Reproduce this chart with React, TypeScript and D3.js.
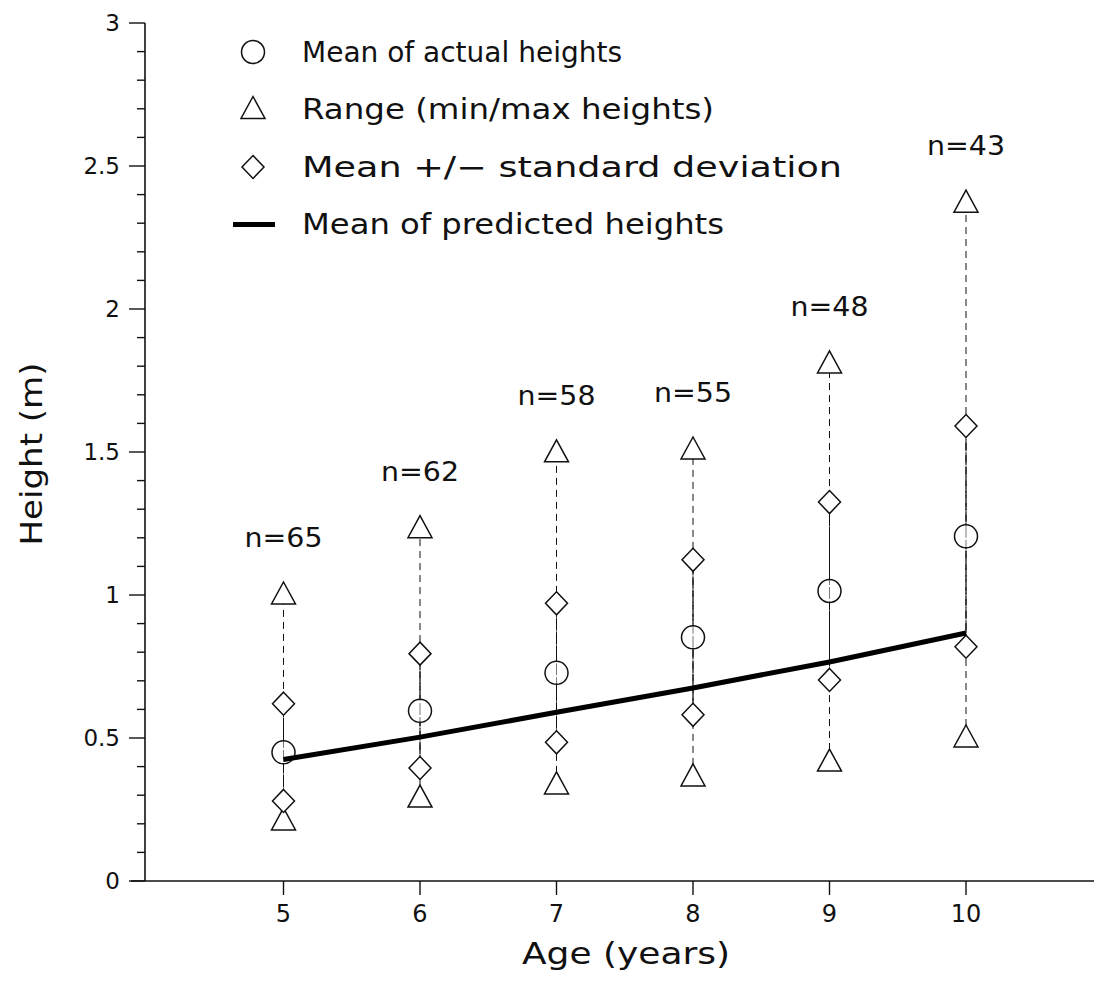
import React from "react";
import * as d3 from "d3";

// Age classes (years) and sample sizes
const ages = [5, 6, 7, 8, 9, 10];
const sampleSizes = [65, 62, 58, 55, 48, 43];
// Mean of measured heights (m)
const meanHeights = [0.45, 0.595, 0.728, 0.852, 1.014, 1.205];
// Standard deviation of measured heights (m)
const sdHeights = [0.17, 0.2, 0.243, 0.271, 0.311, 0.386];
// Minimum and maximum measured heights (m)
const minHeights = [0.21, 0.29, 0.336, 0.364, 0.416, 0.5];
const maxHeights = [1.0, 1.232, 1.497, 1.507, 1.808, 2.37];
// Mean of model-predicted heights (m)
const predictedHeights = [0.425, 0.503, 0.59, 0.675, 0.766, 0.867];

const yMajorTicks = [0, 0.5, 1, 1.5, 2, 2.5, 3];
const xTicks = [5, 6, 7, 8, 9, 10];

const legendItems = [
  { kind: "circle", label: "Mean of actual heights", len: 320 },
  { kind: "triangle", label: "Range (min/max heights)", len: 412 },
  { kind: "diamond", label: "Mean +/\u2212 standard deviation", len: 540 },
  { kind: "line", label: "Mean of predicted heights", len: 422 },
];

const FONT = "'DejaVu Sans', sans-serif";

function Marker({ kind, x, y }: { kind: string; x: number; y: number }) {
  const common = { fill: "white", stroke: "#111", strokeWidth: 1.5 };
  if (kind === "circle") return <circle cx={x} cy={y} r={11.5} {...common} />;
  if (kind === "triangle")
    return (
      <path
        d={`M${x},${y - 13} L${x + 12},${y + 9} L${x - 12},${y + 9} Z`}
        {...common}
      />
    );
  if (kind === "diamond")
    return (
      <path
        d={`M${x},${y - 11.5} L${x + 11},${y} L${x},${y + 11.5} L${x - 11},${y} Z`}
        {...common}
      />
    );
  return null;
}

export default function App() {
  const width = 1094;
  const height = 981;
  const x = d3.scaleLinear().domain([4, 11]).range([147, 1102.5]);
  const y = d3.scaleLinear().domain([0, 3]).range([881, 23]);

  const minorTicks = d3.range(0, 3.0001, 0.1).map((v) => Math.round(v * 10) / 10);

  const predLine = d3
    .line<number>()
    .x((_, i) => x(ages[i]))
    .y((d) => y(d));

  return (
    <svg
      width={width}
      height={height}
      style={{ position: "absolute", left: 0, top: 0, background: "white" }}
      fontFamily={FONT}
    >
      <rect width={width} height={height} fill="white" />

      {/* Y axis */}
      <line x1={145} x2={145} y1={y(3)} y2={y(0)} stroke="#111" strokeWidth={1.6} />
      {minorTicks.map((v) => {
        const major = yMajorTicks.some((m) => Math.abs(m - v) < 1e-6);
        return (
          <line
            key={`yt${v}`}
            x1={major ? 129 : 137}
            x2={145}
            y1={y(v)}
            y2={y(v)}
            stroke="#111"
            strokeWidth={1.4}
          />
        );
      })}
      {yMajorTicks.map((v) => (
        <text
          key={`yl${v}`}
          x={120}
          y={y(v)}
          textAnchor="end"
          dominantBaseline="central"
          fontSize={23}
          fill="#111"
        >
          {String(v)}
        </text>
      ))}
      <text
        transform={`translate(31,${y(1.5) + 2}) rotate(-90)`}
        textAnchor="middle"
        dominantBaseline="central"
        fontSize={30}
        textLength={183}
        lengthAdjust="spacingAndGlyphs"
        fill="#111"
      >
        Height (m)
      </text>

      {/* X axis */}
      <line x1={131} x2={width} y1={y(0)} y2={y(0)} stroke="#111" strokeWidth={1.6} />
      {xTicks.map((v) => (
        <g key={`xt${v}`}>
          <line x1={x(v)} x2={x(v)} y1={y(0)} y2={y(0) + 14} stroke="#111" strokeWidth={1.4} />
          <text
            x={x(v)}
            y={y(0) + 33}
            textAnchor="middle"
            dominantBaseline="central"
            fontSize={24}
            fill="#111"
          >
            {v}
          </text>
        </g>
      ))}
      <text
        x={626}
        y={y(0) + 72}
        textAnchor="middle"
        dominantBaseline="central"
        fontSize={31}
        textLength={208}
        lengthAdjust="spacingAndGlyphs"
        fill="#111"
      >
        Age (years)
      </text>

      {/* Range and standard deviation lines */}
      {ages.map((a, i) => (
        <g key={`rng${a}`}>
          <line
            x1={x(a)}
            x2={x(a)}
            y1={y(minHeights[i])}
            y2={y(maxHeights[i])}
            stroke="#111"
            strokeWidth={1}
            strokeDasharray="7,5"
          />
          <line
            x1={x(a)}
            x2={x(a)}
            y1={y(meanHeights[i] - sdHeights[i])}
            y2={y(meanHeights[i] + sdHeights[i])}
            stroke="#111"
            strokeWidth={1}
            strokeDasharray="12,2"
          />
        </g>
      ))}

      {/* Markers */}
      {ages.map((a, i) => (
        <g key={`mk${a}`}>
          <Marker kind="triangle" x={x(a)} y={y(minHeights[i])} />
          <Marker kind="triangle" x={x(a)} y={y(maxHeights[i])} />
          <Marker kind="diamond" x={x(a)} y={y(meanHeights[i] - sdHeights[i])} />
          <Marker kind="diamond" x={x(a)} y={y(meanHeights[i] + sdHeights[i])} />
          <Marker kind="circle" x={x(a)} y={y(meanHeights[i])} />
          {/* thin stem visible through open markers */}
          <line
            x1={x(a)}
            x2={x(a)}
            y1={y(meanHeights[i] - sdHeights[i]) - 11}
            y2={y(meanHeights[i] + sdHeights[i]) + 11}
            stroke="#111"
            strokeWidth={0.8}
            strokeDasharray="12,2"
            opacity={0.7}
          />
        </g>
      ))}

      {/* Predicted mean line */}
      <path
        d={predLine(predictedHeights) || ""}
        fill="none"
        stroke="#000"
        strokeWidth={5}
        strokeLinejoin="round"
      />

      {/* Sample sizes */}
      {ages.map((a, i) => (
        <text
          key={`n${a}`}
          x={x(a)}
          y={y(maxHeights[i] + 0.2)}
          textAnchor="middle"
          dominantBaseline="central"
          fontSize={27}
          textLength={78}
          lengthAdjust="spacingAndGlyphs"
          fill="#111"
        >
          {`n=${sampleSizes[i]}`}
        </text>
      ))}

      {/* Legend */}
      {legendItems.map((it, i) => {
        const ly = 52 + i * 57.5;
        return (
          <g key={`lg${i}`}>
            {it.kind === "line" ? (
              <line x1={233} x2={275} y1={ly} y2={ly} stroke="#000" strokeWidth={5} />
            ) : (
              <Marker kind={it.kind} x={253} y={ly} />
            )}
            <text
              x={302}
              y={ly}
              dominantBaseline="central"
              fontSize={28}
              textLength={it.len}
              lengthAdjust="spacingAndGlyphs"
              fill="#111"
            >
              {it.label}
            </text>
          </g>
        );
      })}
    </svg>
  );
}
